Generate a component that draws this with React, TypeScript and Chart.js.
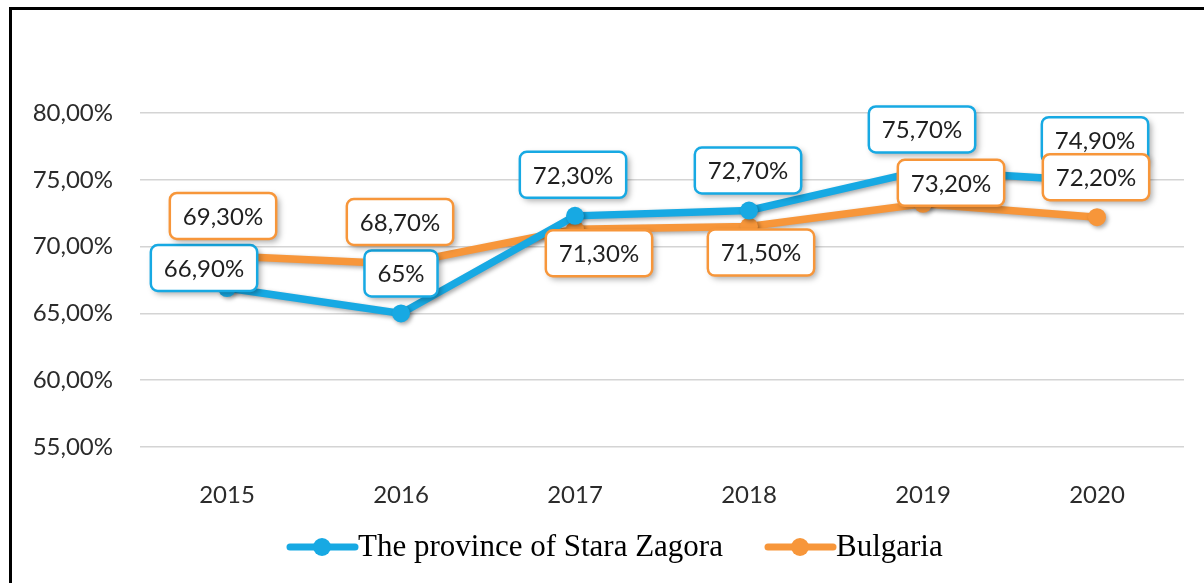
import React, { useEffect, useRef } from "react";
import { Chart, registerables } from "chart.js";

Chart.register(...registerables);

const categories = ["2015", "2016", "2017", "2018", "2019", "2020"];
const staraZagora = [66.9, 65, 72.3, 72.7, 75.7, 74.9];
const bulgaria = [69.3, 68.7, 71.3, 71.5, 73.2, 72.2];
const yTicks = [55, 60, 65, 70, 75, 80];
const seriesNames = ["The province of Stara Zagora", "Bulgaria"];

// label box offsets (px) relative to each point
const staraLabelOffsets = [[-23, -20], [0, -40], [-2, -41], [-1, -40], [-1, -41], [-2, -41]];
const bulgariaLabelOffsets = [[-4, -40], [-1, -42], [24, 24], [12, 26], [28, -21], [-1, -40]];

const BLUE = "#17A9E3";
const ORANGE = "#F7963A";
const TEXT = "#2b2b2b";

const fmtLabel = (v: number) =>
  Number.isInteger(v) ? `${v}%` : v.toFixed(2).replace(".", ",") + "%";
const fmtTick = (v: number) => v.toFixed(2).replace(".", ",") + "%";

const shadowPlugin = {
  id: "lineShadow",
  beforeDatasetDraw(chart: any) {
    const ctx = chart.ctx;
    ctx.save();
    ctx.shadowColor = "rgba(0,0,0,0.35)";
    ctx.shadowBlur = 4;
    ctx.shadowOffsetX = 2;
    ctx.shadowOffsetY = 2;
  },
  afterDatasetDraw(chart: any) {
    chart.ctx.restore();
  },
};

const boxLabelPlugin = {
  id: "boxLabels",
  afterDatasetsDraw(chart: any) {
    const ctx = chart.ctx;
    chart.data.datasets.forEach((ds: any, di: number) => {
      const meta = chart.getDatasetMeta(di);
      const offs = ds.labelOffsets as number[][];
      meta.data.forEach((pt: any, i: number) => {
        const text = fmtLabel(ds.data[i]);
        ctx.save();
        ctx.font = "24px Lato";
        const w = ctx.measureText(text).width + 26;
        const h = 46;
        const cx = pt.x + offs[i][0];
        const cy = pt.y + offs[i][1];
        ctx.beginPath();
        ctx.roundRect(cx - w / 2, cy - h / 2, w, h, 7);
        ctx.shadowColor = "rgba(0,0,0,0.35)";
        ctx.shadowBlur = 6;
        ctx.shadowOffsetX = 3;
        ctx.shadowOffsetY = 3;
        ctx.fillStyle = "#ffffff";
        ctx.fill();
        ctx.shadowColor = "transparent";
        ctx.lineWidth = 2.5;
        ctx.strokeStyle = ds.borderColor;
        ctx.stroke();
        ctx.fillStyle = "#1f1f1f";
        ctx.textAlign = "center";
        ctx.textBaseline = "middle";
        ctx.fillText(text, cx, cy + 1);
        ctx.restore();
      });
    });
  },
};

const legendPlugin = {
  id: "customLegend",
  afterDraw(chart: any) {
    const ctx = chart.ctx;
    const items = [
      { x: 290, ds: chart.data.datasets[0] },
      { x: 768, ds: chart.data.datasets[1] },
    ];
    const y = 547;
    items.forEach(({ x, ds }) => {
      ctx.save();
      ctx.strokeStyle = ds.borderColor;
      ctx.lineWidth = 7;
      ctx.lineCap = "round";
      ctx.beginPath();
      ctx.moveTo(x, y);
      ctx.lineTo(x + 65, y);
      ctx.stroke();
      ctx.fillStyle = ds.borderColor;
      ctx.beginPath();
      ctx.arc(x + 32, y, 9, 0, Math.PI * 2);
      ctx.fill();
      ctx.fillStyle = "#000000";
      ctx.font = "31px 'Liberation Serif'";
      ctx.textAlign = "left";
      ctx.textBaseline = "middle";
      ctx.fillText(ds.label, x + 68, y + 1);
      ctx.restore();
    });
  },
};

export default function App() {
  const ref = useRef<HTMLCanvasElement | null>(null);

  useEffect(() => {
    document.body.style.margin = "0";
    document.body.style.overflow = "hidden";
    const canvas = ref.current;
    if (!canvas) return;
    const chart = new Chart(canvas, {
      type: "line",
      data: {
        labels: categories,
        datasets: [
          {
            label: seriesNames[0],
            data: staraZagora,
            borderColor: BLUE,
            backgroundColor: BLUE,
            borderWidth: 7.5,
            pointRadius: 9,
            pointBackgroundColor: BLUE,
            pointBorderWidth: 0,
            tension: 0,
            labelOffsets: staraLabelOffsets,
          } as any,
          {
            label: seriesNames[1],
            data: bulgaria,
            borderColor: ORANGE,
            backgroundColor: ORANGE,
            borderWidth: 7.5,
            pointRadius: 9,
            pointBackgroundColor: ORANGE,
            pointBorderWidth: 0,
            tension: 0,
            labelOffsets: bulgariaLabelOffsets,
          } as any,
        ],
      },
      options: {
        responsive: false,
        animation: false,
        devicePixelRatio: 1,
        layout: { padding: { top: 113, right: 20, left: 0, bottom: 0 } },
        plugins: {
          legend: { display: false },
          tooltip: { enabled: false },
        },
        scales: {
          x: {
            offset: true,
            grid: { display: false, offset: true },
            border: { display: false },
            ticks: {
              color: TEXT,
              font: { family: "Lato", size: 24 },
              padding: 26,
            },
            afterFit(scale: any) {
              scale.height = 136;
            },
          },
          y: {
            min: 55,
            max: 80,
            afterBuildTicks(scale: any) {
              scale.ticks = yTicks.map((v) => ({ value: v }));
            },
            grid: { color: "#d4d4d4", lineWidth: 1.5, drawTicks: false },
            border: { display: false },
            ticks: {
              color: TEXT,
              font: { family: "Lato", size: 24 },
              padding: 27,
              callback: (v: any) => fmtTick(Number(v)),
            },
            afterFit(scale: any) {
              scale.width = 140;
            },
          },
        },
      },
      plugins: [shadowPlugin, boxLabelPlugin, legendPlugin],
    });
    return () => chart.destroy();
  }, []);

  return (
    <div style={{ position: "fixed", left: 0, top: 0, width: 1204, height: 583, overflow: "hidden", background: "#fff" }}>
      <canvas ref={ref} width={1204} height={583} style={{ display: "block", position: "absolute", left: 0, top: 0 }} />
      <div
        style={{
          position: "absolute",
          left: 9,
          top: 7,
          width: 1400,
          height: 800,
          borderLeft: "3px solid #000",
          borderTop: "3px solid #000",
          pointerEvents: "none",
        }}
      />
    </div>
  );
}
